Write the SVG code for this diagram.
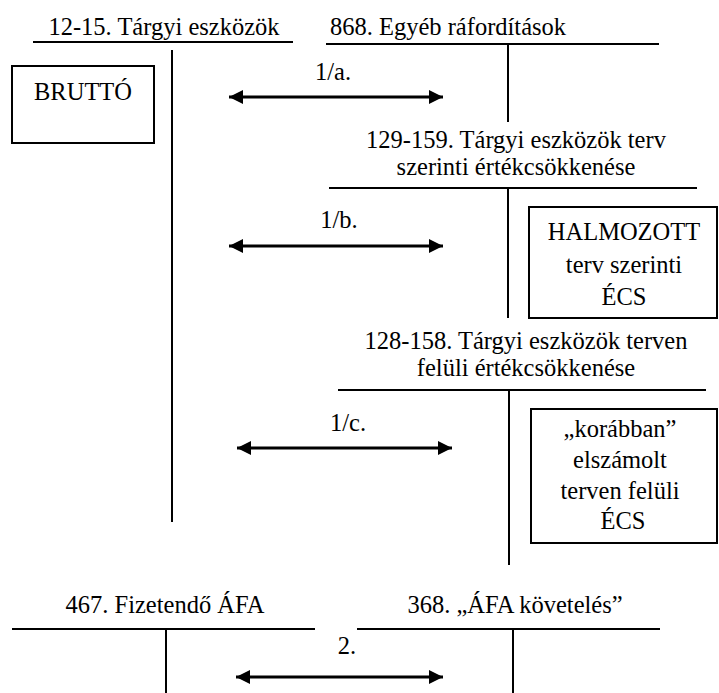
<svg xmlns="http://www.w3.org/2000/svg" width="719" height="693" viewBox="0 0 719 693" font-family="Times New Roman, Liberation Serif, Tinos, DejaVu Serif, serif">
<style>
text{font-size:24.5px;fill:#000}
.c{text-anchor:middle}
.t{stroke:#000;stroke-width:2;fill:none}
.b{stroke:#000;stroke-width:2;fill:#fff}
.a{stroke:#000;stroke-width:3;fill:none;marker-start:url(#ah);marker-end:url(#ah)}
</style>
<defs>
<marker id="ah" markerUnits="userSpaceOnUse" markerWidth="16" markerHeight="16" refX="14" refY="7" orient="auto-start-reverse" viewBox="0 0 16 16">
<path d="M0,0 L14,7 L0,14 z" fill="#000"/>
</marker>
</defs>
<rect width="719" height="693" fill="#fff"/>

<g id="acc-12-15">
<text x="164" y="35" class="c">12-15. Tárgyi eszközök</text>
<line class="t" x1="33" y1="42" x2="293" y2="42"/>
<line class="t" x1="172" y1="50" x2="172" y2="522"/>
</g>

<g id="box-brutto">
<rect class="b" x="12" y="66" width="142" height="77"/>
<text x="83" y="100" class="c">BRUTTÓ</text>
</g>

<g id="acc-868">
<text x="330" y="35">868. Egyéb ráfordítások</text>
<line class="t" x1="326" y1="44" x2="659" y2="44"/>
<line class="t" x1="508" y1="44" x2="508" y2="122"/>
</g>

<g id="acc-129-159">
<text x="516" y="148" class="c">129-159. Tárgyi eszközök terv</text>
<text x="516" y="175" class="c">szerinti értékcsökkenése</text>
<line class="t" x1="329" y1="188" x2="697" y2="188"/>
<line class="t" x1="508" y1="188" x2="508" y2="318"/>
</g>

<g id="box-halmozott">
<rect class="b" x="529" y="207" width="188" height="111"/>
<text x="624" y="240" class="c">HALMOZOTT</text>
<text x="624" y="273" class="c">terv szerinti</text>
<text x="624" y="305" class="c">ÉCS</text>
</g>

<g id="acc-128-158">
<text x="526" y="349" class="c">128-158. Tárgyi eszközök terven</text>
<text x="526" y="376" class="c">felüli értékcsökkenése</text>
<line class="t" x1="338" y1="390" x2="706" y2="390"/>
<line class="t" x1="509" y1="390" x2="509" y2="565"/>
</g>

<g id="box-korabban">
<rect class="b" x="531" y="409" width="186" height="134"/>
<text x="620" y="437" class="c">„korábban”</text>
<text x="620" y="468" class="c">elszámolt</text>
<text x="620" y="499" class="c">terven felüli</text>
<text x="623" y="529" class="c">ÉCS</text>
</g>

<g id="acc-467">
<text x="165" y="613" class="c">467. Fizetendő ÁFA</text>
<line class="t" x1="12" y1="629" x2="315" y2="629"/>
<line class="t" x1="166" y1="629" x2="166" y2="693"/>
</g>

<g id="acc-368">
<text x="515" y="613" class="c">368. „ÁFA követelés”</text>
<line class="t" x1="357" y1="629" x2="660" y2="629"/>
<line class="t" x1="513" y1="629" x2="513" y2="693"/>
</g>

<g id="connectors">
<line class="a" x1="229" y1="97" x2="443" y2="97"/>
<text x="333" y="80" class="c">1/a.</text>
<line class="a" x1="229" y1="246" x2="443" y2="246"/>
<text x="339" y="228" class="c">1/b.</text>
<line class="a" x1="237" y1="448" x2="452" y2="448"/>
<text x="348" y="431" class="c">1/c.</text>
<line class="a" x1="236" y1="677" x2="443" y2="677"/>
<text x="347" y="654" class="c">2.</text>
</g>
</svg>
